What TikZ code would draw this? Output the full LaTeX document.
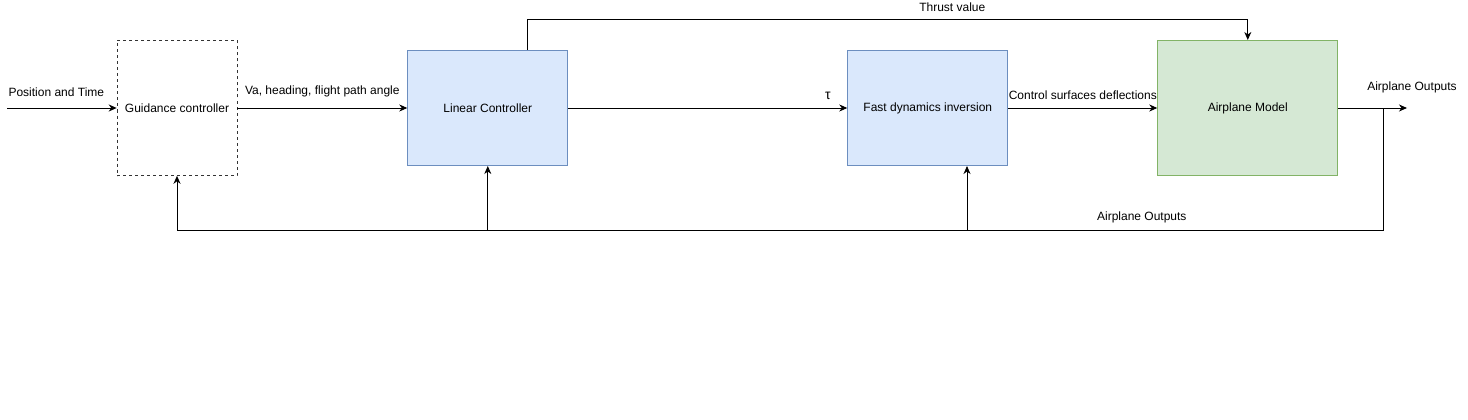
\documentclass[tikz,border=0pt]{standalone}
\usepackage{fontspec}
\setmainfont{Liberation Sans}
\usetikzlibrary{arrows.meta,positioning}

\definecolor{bluefill}{HTML}{DAE8FC}
\definecolor{blueline}{HTML}{6C8EBF}
\definecolor{greenfill}{HTML}{D5E8D4}
\definecolor{greenline}{HTML}{82B366}

\begin{document}
\begin{tikzpicture}[x=1pt, y=-1pt, >={Stealth[length=8pt, width=7pt, inset=2.5pt]}, line width=1pt, auto, node distance=170pt, font=\fontsize{12}{14}\selectfont,
  guide/.style={rectangle, draw=black!80, dashed, line width=0.6pt, minimum width=120pt, minimum height=135pt},
  ctrl/.style={rectangle, draw=blueline, fill=bluefill, minimum width=160pt, minimum height=115pt},
  plant/.style={rectangle, draw=greenline, fill=greenfill, minimum width=180pt, minimum height=135pt},
  lbl/.style={inner sep=0pt}]
  \useasboundingbox (0,0) rectangle (1468,420);

  \node[guide]  (guid)  at (177,108)              {Guidance controller};
  \node[ctrl]   (lin)   [right=of guid]           {Linear Controller};
  \node[ctrl]   (fdi)   [right=279pt of lin]      {Fast dynamics inversion};
  \node[plant]  (model) [right=149pt of fdi]      {Airplane Model};

  \coordinate (in)  at (7,108);
  \coordinate (br)  at (1383,108);
  \coordinate (out) at (1407,108);
  \coordinate (fb)  at (1383,230);
  \coordinate (th)  at (527,20);
  \coordinate (fdifb) at (967,230);

  % forward path
  \path[->]
        (in)    edge node[lbl, above=11pt, pos=0.45] {Position and Time} (guid)
        (guid)  edge node[lbl, above=11pt] {Va, heading, flight path angle} (lin)
        (lin)   edge node[lbl, above=8pt, pos=0.93] {\fontsize{14}{14}\selectfont τ} (fdi)
        (fdi)   edge node[lbl, above=8pt] {Control surfaces deflections} (model);
  \draw[->] (model) -- (out) node[lbl, above=15pt, xshift=5pt] (outlbl) {Airplane Outputs};

  % thrust
  \draw[->] (lin.north -| th) -- (th) -- node[lbl, above=8pt, pos=0.59] (thlbl) {Thrust value} (th -| model.north) -- (model.north);

  % feedback
  \draw[->] (br) -- (fb) -| (guid.south);
  \path (fb) -- (fb -| guid.south) node[lbl, above=7pt, pos=0.2] (fblbl) {Airplane Outputs};
  \draw[->] (fb -| lin.south) -- (lin.south);
  \draw[->] (fdifb) -- (fdifb |- fdi.south);
\end{tikzpicture}
\end{document}
